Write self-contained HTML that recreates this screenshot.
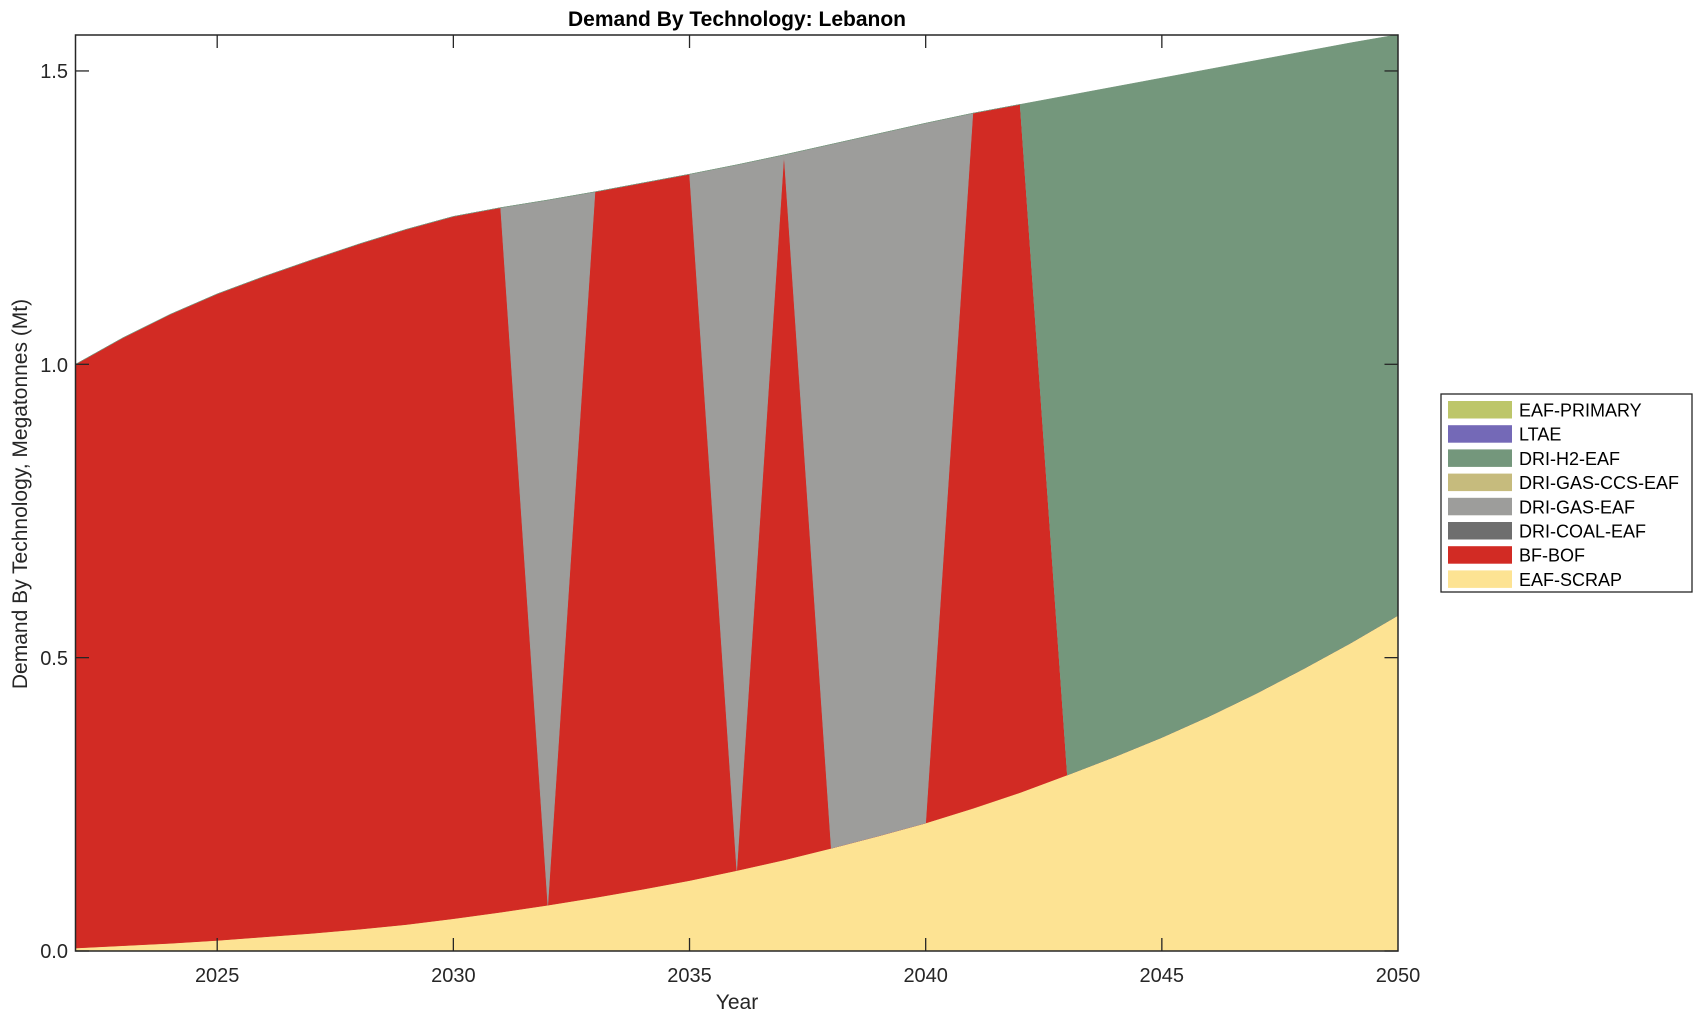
<!DOCTYPE html>
<html><head><meta charset="utf-8"><style>
html,body{margin:0;padding:0;background:#fff;}
svg{display:block;font-family:"Liberation Sans",Arial,sans-serif;}
</style></head><body>
<svg id="s" width="1703" height="1020" viewBox="0 0 1703 1020" xmlns="http://www.w3.org/2000/svg">
<g id="areas"></g>
<rect x="75.5" y="35" width="1322.5" height="916" fill="none" stroke="#262626" stroke-width="1.5"/>
<g stroke="#262626" stroke-width="1.3" id="ticks"></g>
<g font-size="20" fill="#262626" text-anchor="middle">
<text x="217.2" y="982">2025</text><text x="453.4" y="982">2030</text><text x="689.5" y="982">2035</text>
<text x="925.7" y="982">2040</text><text x="1161.8" y="982">2045</text><text x="1398" y="982">2050</text>
</g>
<g font-size="20" fill="#262626" text-anchor="end">
<text x="68" y="958">0.0</text><text x="68" y="665">0.5</text><text x="68" y="372">1.0</text><text x="68" y="78">1.5</text>
</g>
<text x="737" y="26" font-size="21" font-weight="bold" text-anchor="middle" fill="#000">Demand By Technology: Lebanon</text>
<text x="737" y="1009" font-size="21" text-anchor="middle" fill="#262626">Year</text>
<text transform="translate(27,494) rotate(-90)" font-size="21" text-anchor="middle" fill="#262626">Demand By Technology, Megatonnes (Mt)</text>
<rect x="1441" y="394" width="251" height="198" fill="#fff" stroke="#262626" stroke-width="1.3"/>
<g id="leg" font-size="18" fill="#000"></g>
</svg>
<script>
var X=function(y){return 75.5+(y-2022)/28*1322.5;};
var Y=function(v){return 951-v*586.7;};
var scrap=[.005,.009,.013,.018,.024,.030,.037,.045,.055,.066,.078,.091,.105,.120,.137,.155,.175,.196,.218,.243,.270,.300,.331,.364,.400,.439,.481,.525,.572];
var tot=[1.0,1.045,1.085,1.12,1.15,1.178,1.205,1.23,1.252,1.267,1.28,1.294,1.309,1.324,1.34,1.357,1.375,1.393,1.411,1.428,1.443,1.458,1.473,1.488,1.503,1.518,1.533,1.548,1.562];
function tech(y){if(y<=2031)return 'b';if(y==2032)return 'g';if(y<=2035)return 'b';if(y==2036)return 'g';if(y==2037)return 'b';if(y<=2040)return 'g';if(y<=2042)return 'b';return 'h';}
var order=['b','g','h'],col={b:'#d22b24',g:'#9d9d9b',h:'#74977c'};
var vals={};order.forEach(function(k){vals[k]=[];});
for(var i=0;i<29;i++){var t=tech(2022+i);order.forEach(function(k){vals[k].push(k==t?tot[i]-scrap[i]:0);});}
var html='';
var base=scrap.map(function(){return 0;});
function poly(lo,hi,c){var p=[];for(var i=0;i<29;i++)p.push(X(2022+i).toFixed(2)+','+Y(hi[i]).toFixed(2));for(var i=28;i>=0;i--)p.push(X(2022+i).toFixed(2)+','+Y(lo[i]).toFixed(2));return '<polygon points="'+p.join(' ')+'" fill="'+c+'" stroke="'+c+'" stroke-width="0.5"/>';}
var cum=scrap.slice();
html+=poly(base,cum,'#fde393');
order.forEach(function(k){var nc=cum.map(function(v,i){return v+vals[k][i];});html+=poly(cum,nc,col[k]);cum=nc;});
document.getElementById('areas').innerHTML=html;
var t='';
[2025,2030,2035,2040,2045].forEach(function(y){var x=X(y);t+='<line x1="'+x+'" y1="951" x2="'+x+'" y2="938"/><line x1="'+x+'" y1="35" x2="'+x+'" y2="48"/>';});
[0,0.5,1,1.5].forEach(function(v){var y=Y(v);t+='<line x1="75.5" y1="'+y+'" x2="89" y2="'+y+'"/><line x1="1398" y1="'+y+'" x2="1384.5" y2="'+y+'"/>';});
document.getElementById('ticks').innerHTML=t;
var L=[['EAF-PRIMARY','#bdc66a'],['LTAE','#7469b7'],['DRI-H2-EAF','#74977c'],['DRI-GAS-CCS-EAF','#c6bb7d'],['DRI-GAS-EAF','#9d9d9b'],['DRI-COAL-EAF','#6e6e6e'],['BF-BOF','#d22b24'],['EAF-SCRAP','#fde393']];
var l='';L.forEach(function(e,i){var y=401+i*24.2;l+='<rect x="1448" y="'+y+'" width="64" height="17.5" fill="'+e[1]+'"/><text x="1519" y="'+(y+15.5)+'">'+e[0]+'</text>';});
document.getElementById('leg').innerHTML=l;
</script>
</body></html>
